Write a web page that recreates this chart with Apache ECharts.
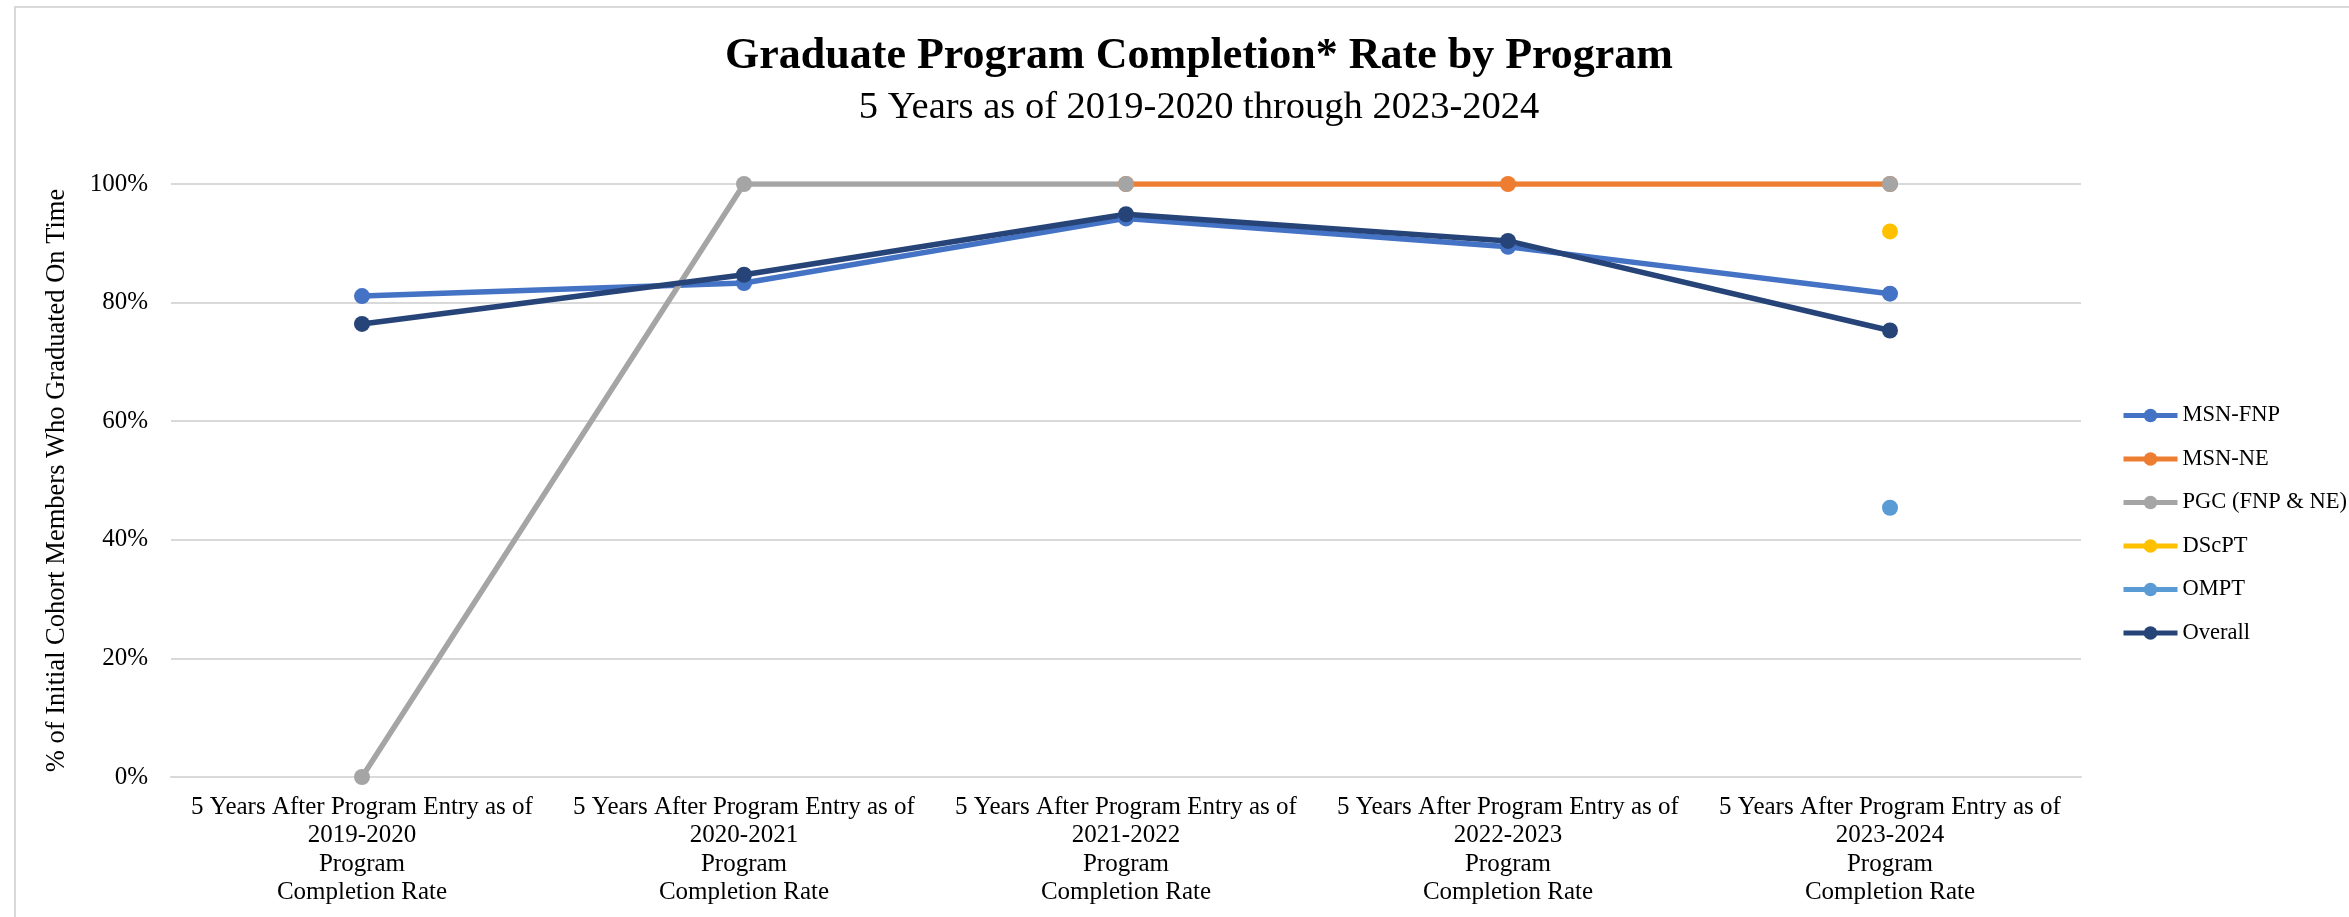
<!DOCTYPE html>
<html>
<head>
<meta charset="utf-8">
<script src="https://cdn.jsdelivr.net/npm/echarts@6/dist/echarts.min.js"></script>
<style>
html, body { margin: 0; padding: 0; background: #fff; }
#main { width: 2349px; height: 917px; }
</style>
</head>
<body>
<div id="main"></div>
<script>
// categories (x axis)
var categories = [
	'5 Years After Program Entry as of\n2019-2020\nProgram\nCompletion Rate',
	'5 Years After Program Entry as of\n2020-2021\nProgram\nCompletion Rate',
	'5 Years After Program Entry as of\n2021-2022\nProgram\nCompletion Rate',
	'5 Years After Program Entry as of\n2022-2023\nProgram\nCompletion Rate',
	'5 Years After Program Entry as of\n2023-2024\nProgram\nCompletion Rate'
];

// values in percent
var msnFnp = [81.1, 83.3, 94.2, 89.4, 81.5];
var msnNe = [null, null, 100, 100, 100];
var pgc = [0, 100, 100, null, 100];
var dscpt = [null, null, null, null, 92.0];
var ompt = [null, null, null, null, 45.4];
var overall = [76.4, 84.7, 94.9, 90.4, 75.3];

var yTicks = { min: 0, max: 100, interval: 20 };

var FONT = '"Liberation Serif", serif';

function lineSeries(name, data, color) {
	return {
		name: name,
		type: 'line',
		data: data,
		symbol: 'circle',
		symbolSize: 16,
		showAllSymbol: true,
		connectNulls: false,
		lineStyle: { color: color, width: 5.5 },
		itemStyle: { color: color },
		emphasis: { disabled: true }
	};
}

var myChart = echarts.init(document.getElementById('main'));

var option = {
	animation: false,
	backgroundColor: '#ffffff',
	title: {
		text: 'Graduate Program Completion* Rate by Program',
		subtext: '5 Years as of 2019-2020 through 2023-2024',
		left: 1194,
		textAlign: 'center',
		top: 30,
		itemGap: 9,
		textStyle: {
			fontFamily: FONT,
			fontWeight: 'bold',
			fontSize: 44,
			color: '#000'
		},
		subtextStyle: {
			fontFamily: FONT,
			fontSize: 38.5,
			color: '#000'
		}
	},
	graphic: [{
		type: 'rect',
		shape: { x: 15, y: 7, width: 2400, height: 1000 },
		style: { fill: 'none', stroke: '#d9d9d9', lineWidth: 2 },
		silent: true,
		z: -1
	}],
	legend: {
		orient: 'vertical',
		left: 2116,
		top: 399,
		itemWidth: 54,
		itemHeight: 17,
		itemGap: 20.5,
		lineStyle: { width: 5 },
		textStyle: { fontFamily: FONT, fontSize: 22.5, color: '#000' },
		data: ['MSN-FNP', 'MSN-NE', 'PGC (FNP & NE)', 'DScPT', 'OMPT', 'Overall']
	},
	grid: {
		left: 171,
		right: 268,
		top: 184,
		bottom: 140,
		containLabel: false
	},
	xAxis: {
		type: 'category',
		data: categories,
		boundaryGap: true,
		axisLine: { show: true, lineStyle: { color: '#d9d9d9', width: 2 } },
		axisTick: { show: false },
		axisLabel: {
			margin: 16,
			interval: 0,
			fontFamily: FONT,
			fontSize: 25,
			lineHeight: 28.5,
			color: '#000'
		}
	},
	yAxis: {
		type: 'value',
		min: yTicks.min,
		max: yTicks.max,
		interval: yTicks.interval,
		name: '% of Initial Cohort Members Who Graduated On Time',
		nameLocation: 'middle',
		nameGap: 100,
		nameRotate: 90,
		nameTextStyle: { fontFamily: FONT, fontSize: 26.5, color: '#000' },
		axisLine: { show: false },
		axisTick: { show: false },
		axisLabel: {
			margin: 23,
			formatter: '{value}%',
			fontFamily: FONT,
			fontSize: 25,
			color: '#000'
		},
		splitLine: { lineStyle: { color: '#d9d9d9', width: 2 } }
	},
	series: [
		lineSeries('MSN-FNP', msnFnp, '#4472C4'),
		lineSeries('MSN-NE', msnNe, '#ED7D31'),
		lineSeries('PGC (FNP & NE)', pgc, '#A5A5A5'),
		lineSeries('DScPT', dscpt, '#FFC000'),
		lineSeries('OMPT', ompt, '#5B9BD5'),
		lineSeries('Overall', overall, '#264478')
	]
};

myChart.setOption(option);
</script>
</body>
</html>
